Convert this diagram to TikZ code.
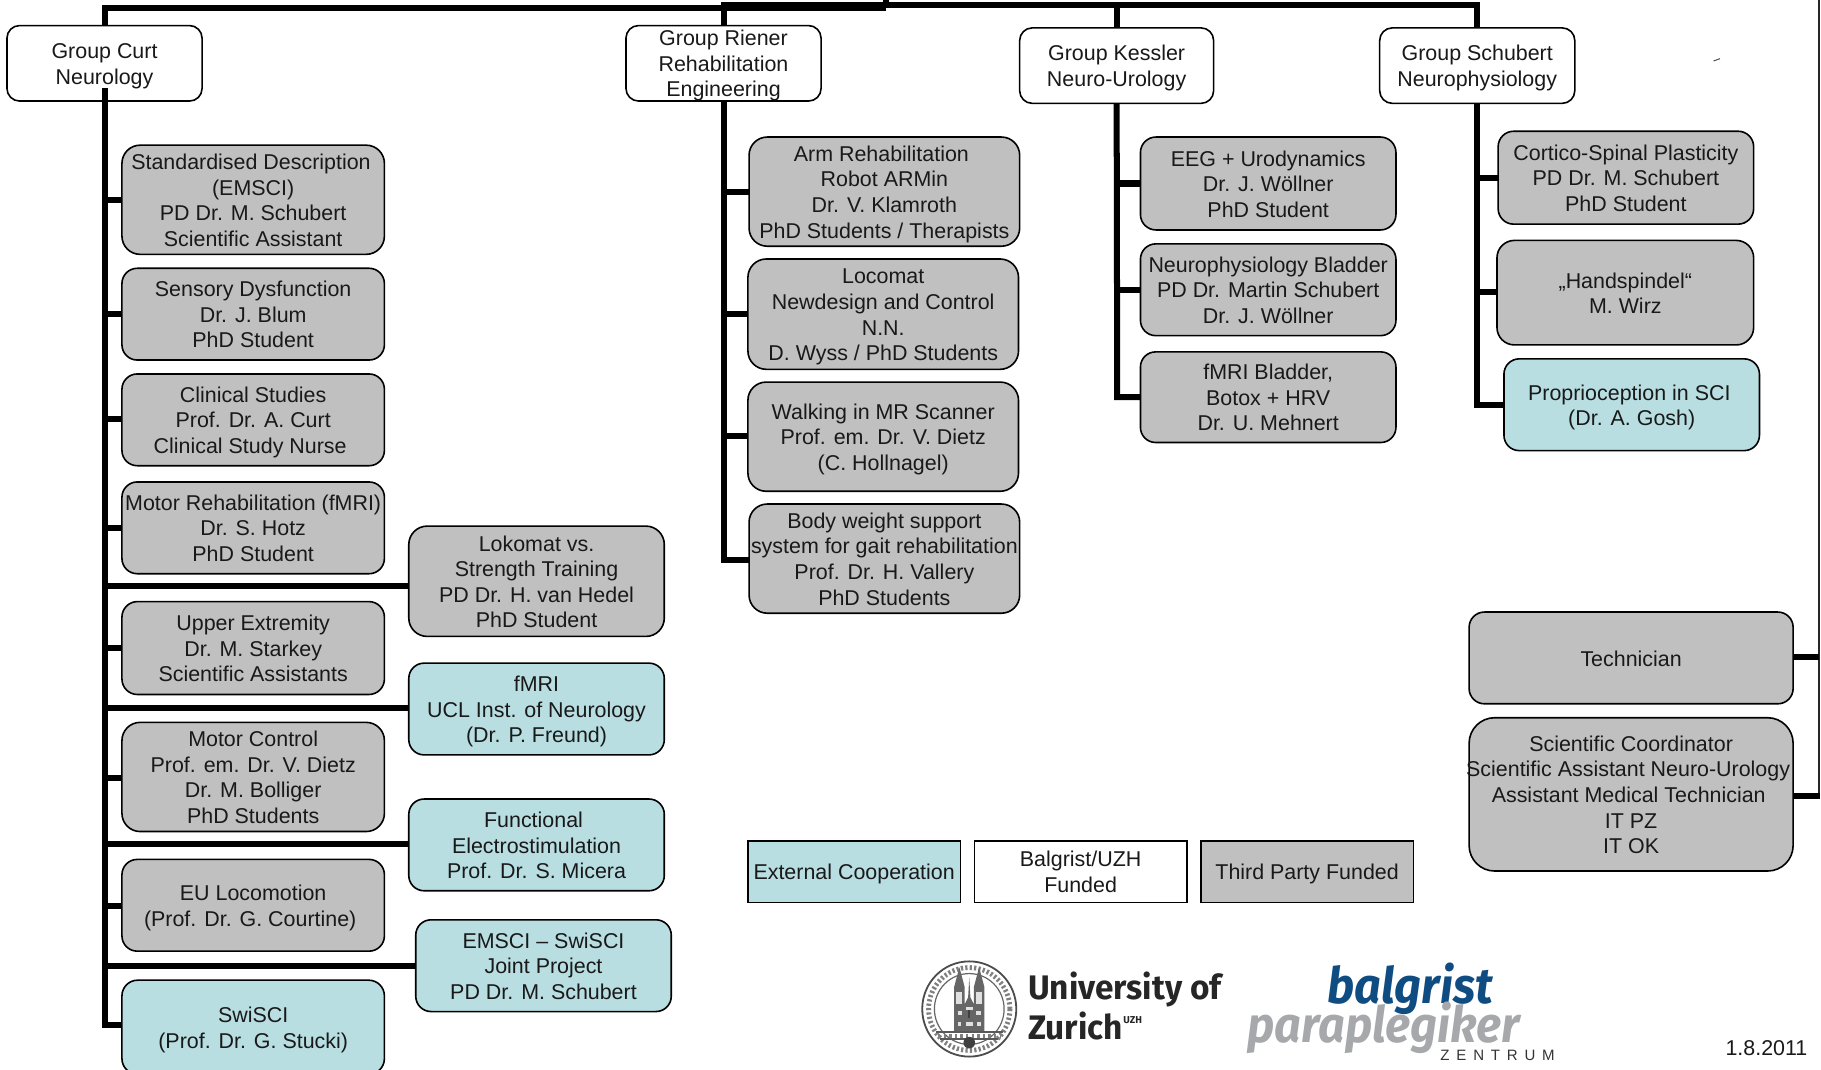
\documentclass[tikz,border=0pt]{standalone}
\usepackage{fontspec}
\setmainfont{Liberation Sans}
\newfontfamily\fira{Fira Sans}
\definecolor{boxgray}{HTML}{C0C0C0}
\definecolor{boxblue}{HTML}{B8DEE2}
\definecolor{logoblue}{HTML}{0F4C81}
\definecolor{logogray}{HTML}{A6A8AB}
\newcommand{\tblock}[1]{\raisebox{-4.25pt}[0pt][0pt]{\begin{tabular}[c]{@{}c@{}}#1\end{tabular}}}
\newcommand{\lft}[1]{\hspace*{-#1pt}}
\newcommand{\ubox}[7]{%
  \pgfmathsetlengthmacro{\uw}{(#4-#2)*0.58pt}%
  \pgfmathsetlengthmacro{\uh}{(#5-#3)*0.58pt}%
  \pgfmathsetlengthmacro{\ur}{min(#4-#2,#5-#3)/6*0.58pt}%
  \node[orgbox,#6,minimum width=\uw,minimum height=\uh,rounded corners=\ur] (#1) at ({(#2+#4)/2},{(#3+#5)/2}) {\tblock{#7}};%
}
\newcommand{\lbox}[7]{%
  \pgfmathsetlengthmacro{\uw}{(#4-#2)*0.58pt}%
  \pgfmathsetlengthmacro{\uh}{(#5-#3)*0.58pt}%
  \node[orgbox,#6,minimum width=\uw,minimum height=\uh] (#1) at ({(#2+#4)/2},{(#3+#5)/2}) {\tblock{#7}};%
}
\tikzset{
  orgbox/.style={draw=black,line width=0.8pt,inner sep=0pt,outer sep=0pt,text=black!90,
    font=\fontsize{10.7}{12.76}\selectfont},
  wbox/.style={fill=white},
  gbox/.style={fill=boxgray},
  bbox/.style={fill=boxblue},
  conn/.style={line width=3pt,draw=black},
  thinconn/.style={line width=1.1pt,draw=black!85},
  logotext/.style={inner sep=0pt,anchor=base west},
}
\begin{document}
\begin{tikzpicture}[x=0.58pt,y=-0.58pt]
\clip (0,0) rectangle (1568,920.48);
% groups
\ubox{curt}{6}{22}{174}{87}{wbox}{Group Curt\\Neurology}
\ubox{riener}{539}{22}{707}{87}{wbox}{Group Riener\\Rehabilitation\\Engineering}
\ubox{kessler}{878}{24}{1045}{89}{wbox}{Group Kessler\\Neuro-Urology}
\ubox{schubert}{1188}{24}{1356}{89}{wbox}{Group Schubert\\Neurophysiology}
% column 1
\ubox{std}{105}{125}{331}{219}{gbox}{\lft{2.2}Standardised Description\\(EMSCI)\\PD Dr. M. Schubert\\Scientific Assistant}
\ubox{sensory}{105}{231}{331}{310}{gbox}{Sensory Dysfunction\\Dr. J. Blum\\PhD Student}
\ubox{clinical}{105}{322}{331}{401}{gbox}{Clinical Studies\\Prof. Dr. A. Curt\\\lft{3}Clinical Study Nurse}
\ubox{motorreh}{105}{415}{331}{494}{gbox}{Motor Rehabilitation (fMRI)\\Dr. S. Hotz\\PhD Student}
\ubox{upper}{105}{518}{331}{598}{gbox}{Upper Extremity\\Dr. M. Starkey\\Scientific Assistants}
\ubox{motorctl}{105}{622}{331}{716}{gbox}{Motor Control\\Prof. em. Dr. V. Dietz\\Dr. M. Bolliger\\PhD Students}
\ubox{eu}{105}{740}{331}{819}{gbox}{EU Locomotion\\\lft{3}(Prof. Dr. G. Courtine)}
\ubox{swisci}{105}{844}{331}{925}{bbox}{SwiSCI\\(Prof. Dr. G. Stucki)}
\ubox{lokomat}{352}{453}{572}{548}{gbox}{Lokomat vs.\\Strength Training\\PD Dr. H. van Hedel\\PhD Student}
\ubox{fmri}{352}{571}{572}{650}{bbox}{fMRI\\UCL Inst. of Neurology\\(Dr. P. Freund)}
\ubox{fes}{352}{688}{572}{767}{bbox}{\lft{3}Functional\\Electrostimulation\\Prof. Dr. S. Micera}
\ubox{emsci}{358}{792}{578}{871}{bbox}{EMSCI -- SwiSCI\\Joint Project\\PD Dr. M. Schubert}
% column 2
\ubox{arm}{645}{118}{878}{212}{gbox}{\lft{3}Arm Rehabilitation\\Robot ARMin\\Dr. V. Klamroth\\PhD Students / Therapists}
\ubox{locomat}{644}{223}{877}{318}{gbox}{Locomat\\Newdesign and Control\\N.N.\\D. Wyss / PhD Students}
\ubox{walking}{644}{329}{877}{423}{gbox}{Walking in MR Scanner\\Prof. em. Dr. V. Dietz\\(C. Hollnagel)}
\ubox{body}{645}{434}{878}{528}{gbox}{Body weight support\\system for gait rehabilitation\\Prof. Dr. H. Vallery\\PhD Students}
% column 3
\ubox{eeg}{982}{118}{1202}{198}{gbox}{EEG + Urodynamics\\Dr. J. Wöllner\\PhD Student}
\ubox{neuro}{982}{210}{1202}{289}{gbox}{Neurophysiology Bladder\\PD Dr. Martin Schubert\\Dr. J. Wöllner}
\ubox{fmribl}{982}{303}{1202}{381}{gbox}{fMRI Bladder,\\Botox + HRV\\Dr. U. Mehnert}
% column 4
\ubox{cortico}{1290}{113}{1510}{193}{gbox}{Cortico-Spinal Plasticity\\PD Dr. M. Schubert\\PhD Student}
\ubox{hand}{1289}{207}{1510}{297}{gbox}{„Handspindel“\\M. Wirz}
\ubox{proprio}{1295}{309}{1515}{388}{bbox}{\lft{2.4}Proprioception in SCI\\(Dr. A. Gosh)}
\ubox{tech}{1265}{527}{1544}{606}{gbox}{Technician}
\ubox{scoord}{1265}{618}{1544}{750}{gbox}{Scientific Coordinator\\\lft{3}Scientific Assistant Neuro-Urology\\\lft{2.4}Assistant Medical Technician\\IT PZ\\IT OK}
% legend
\lbox{legext}{644}{724}{827}{777}{bbox}{External Cooperation}
\lbox{legbal}{839}{724}{1022}{777}{wbox}{Balgrist/UZH\\Funded}
\lbox{legthird}{1034}{724}{1217}{777}{gbox}{Third Party Funded}
% connectors
\coordinate (root) at (763,0);
\coordinate (barl) at (763,7);
\coordinate (barr) at (763,4.5);
\coordinate (curtin) at (90,76);
\coordinate (curtend) at (90,883);
\coordinate (rienerend) at (623,482);
\coordinate (kesslerend) at (962,342);
\coordinate (schubertend) at (1272,349);
\coordinate (railtop) at (1566.5,0);
\coordinate (railend) at (1566.5,685);
\draw[conn] (root) -- (barl);
\draw[conn] (curt.north) -- (curt.north |- barl) -- (barl);
\draw[conn] (riener.north) -- (riener.north |- barr) -- (barr);
\draw[conn] (schubert.north) -- (schubert.north |- barr) -- (barr);
\draw[conn] (kessler.north) -- (kessler.north |- barr);
\draw[conn] (curtin) -- (curtend) -- (swisci.west |- curtend);
\draw[conn] (riener.south) -- (rienerend) -- (body.west |- rienerend);
\draw[conn] (kessler.south) -- (kesslerend) -- (fmribl.west |- kesslerend);
\draw[conn] (schubert.south) -- (schubertend) -- (proprio.west |- schubertend);
\foreach \target/\yy in {std/172,sensory/270,clinical/361,motorreh/455,lokomat/505,upper/558,fmri/610,motorctl/670,fes/727,eu/780,emsci/832}{
  \draw[conn] (curt.south |- 0,\yy) -- (\target.west |- 0,\yy);
}
\foreach \target/\yy in {arm/165,locomat/270,walking/375}{
  \draw[conn] (riener.south |- 0,\yy) -- (\target.west |- 0,\yy);
}
\foreach \target/\yy in {eeg/158,neuro/250}{
  \draw[conn] (kessler.south |- 0,\yy) -- (\target.west |- 0,\yy);
}
\foreach \target/\yy in {cortico/153,hand/251}{
  \draw[conn] (schubert.south |- 0,\yy) -- (\target.west |- 0,\yy);
}
\draw[thinconn] (railtop) -- (railend);
\draw[conn] (tech.east |- 0,566) -- (railend |- 0,566);
\draw[conn] (scoord.east |- railend) -- ([xshift=0.55pt]railend);
% stray mark
\draw[line width=0.5pt,black!70] (1475.5,52.5) -- (1481,50.5);
% date
\node[font=\fontsize{10.7}{12.76}\selectfont,text=black!90,inner sep=0pt] (date) at (1521,902.5) {1.8.2011};
% seal
\begin{scope}[shift={(834.6,868.8)}]
  \draw[line width=0.9pt,black!70,fill=white] (0,0) ellipse (40.5 and 41);
  \draw[line width=0.6pt,black!60] (0,0) ellipse (30 and 30.5);
  \draw[line width=2.4pt,black!50,dash pattern=on 1.1pt off 1.1pt] (0,0) ellipse (35 and 35.7);
  % towers
  \fill[black!60] (-13,19) -- (-13,-19) -- (-8.5,-36) -- (-4,-19) -- (-4,-4) -- (-1,-10) -- (0,-27) -- (1,-10) -- (4,-4) -- (4,-19) -- (8.5,-36) -- (13,-19) -- (13,19) -- cycle;
  \fill[black!12] (-11,-15) rectangle (-6,-4);
  \fill[black!12] (6,-15) rectangle (11,-4);
  \fill[black!12] (-10,2) rectangle (-6,5);
  \fill[black!12] (6,2) rectangle (10,5);
  \fill[black!12] (-10,11) rectangle (-7,15);
  \fill[black!12] (7,11) rectangle (10,15);
  \fill[black!12] (-3,-2) rectangle (3,1);
  \fill[black!75] (-1,1) rectangle (1,8);
  \fill[black!12] (-3,11) rectangle (3,15);
  % bridge
  \draw[line width=0.9pt,black!65] (-29,19.5) -- (29,19.5);
  \draw[line width=0.8pt,black!65] (-25,26) -- (25,26);
  \draw[line width=2pt,black!50,dash pattern=on 1.2pt off 1.6pt] (-27,23) -- (27,23);
  \fill[black!75] (0,29) ellipse (5 and 5);
\end{scope}
% logos
\node[logotext,font=\fira\bfseries\fontsize{17}{17}\selectfont,text=black!85,xscale=0.98] (uni) at (885,861) {University of};
\node[logotext,font=\fira\bfseries\fontsize{17}{17}\selectfont,text=black!85,xscale=0.98] (zur) at (885,895) {Zurich};
\node[logotext,font=\fira\bfseries\fontsize{5}{5}\selectfont,text=black!85] (uzh) at (967,881) {UZH};
\node[logotext,font=\fira\bfseries\itshape\fontsize{25}{25}\selectfont,text=logoblue,xscale=0.933] (balg) at (1143,864) {balgrist};
\node[logotext,font=\fira\bfseries\itshape\fontsize{25}{25}\selectfont,text=logogray,xscale=0.935] (para) at (1074,898) {paraplegiker};
\node[logotext,font=\fontsize{7.5}{7.5}\selectfont,text=black!80] (zent) at (1240,913) {Z\hspace{3.4pt}E\hspace{3.4pt}N\hspace{3.4pt}T\hspace{3.4pt}R\hspace{3.4pt}U\hspace{3.4pt}M};
\end{tikzpicture}
\end{document}
